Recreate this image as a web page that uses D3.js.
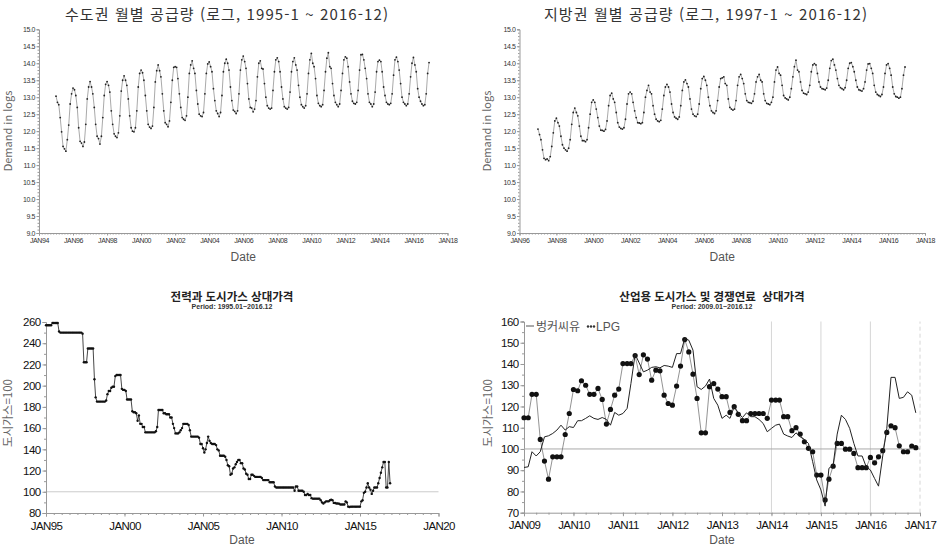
<!DOCTYPE html>
<html lang="ko">
<head>
<meta charset="UTF-8">
<title>도시가스 공급량 및 상대가격</title>
<script src="https://d3js.org/d3.v7.min.js"></script>
<style>
  body { margin: 0; background: #fff; font-family: "Liberation Sans", Arial, sans-serif; }
  svg { display: block; }
  .kr { font-family: "Noto Sans CJK KR", sans-serif; }
  .pre { white-space: pre; }
</style>
</head>
<body>
<svg id="chart" width="939" height="547"></svg>
<script>
// 수도권 월별 공급량 (로그), 1995-1 ~ 2016-12
const metroStart = 1995;
const metroDemand = [
  13.03, 12.85, 12.78, 12.40, 11.98, 11.55, 11.48, 11.41, 11.75, 12.18, 12.80, 13.10,
  13.27, 13.22, 13.05, 12.70, 12.10, 11.70, 11.65, 11.55, 11.68, 12.20, 12.95, 13.30,
  13.46, 13.30, 13.10, 12.70, 12.20, 11.85, 11.78, 11.62, 11.85, 12.40, 13.05, 13.38,
  13.46, 13.35, 13.15, 12.60, 12.20, 11.92, 11.85, 11.81, 11.95, 12.45, 13.18, 13.50,
  13.63, 13.50, 13.35, 12.95, 12.45, 12.10, 12.00, 11.98, 12.10, 12.60, 13.30, 13.70,
  13.80, 13.72, 13.50, 13.05, 12.60, 12.20, 12.12, 12.08, 12.15, 12.70, 13.45, 13.78,
  13.95, 13.78, 13.60, 13.10, 12.60, 12.25, 12.20, 12.13, 12.30, 12.85, 13.50, 13.88,
  13.90, 13.88, 13.55, 13.10, 12.70, 12.40, 12.35, 12.32, 12.45, 13.00, 13.70, 13.95,
  14.07, 13.85, 13.70, 13.20, 12.80, 12.50, 12.45, 12.43, 12.55, 13.10, 13.70, 13.98,
  14.04, 13.90, 13.75, 13.25, 12.90, 12.60, 12.52, 12.43, 12.55, 13.05, 13.75, 14.00,
  14.12, 14.00, 13.80, 13.30, 12.90, 12.62, 12.58, 12.52, 12.60, 13.10, 13.80, 14.10,
  14.21, 14.05, 13.85, 13.40, 12.95, 12.70, 12.68, 12.57, 12.65, 12.90, 13.60, 14.00,
  14.07, 13.85, 13.83, 13.40, 13.00, 12.75, 12.68, 12.65, 12.68, 13.20, 13.75, 14.10,
  14.16, 14.05, 13.75, 13.30, 12.95, 12.72, 12.68, 12.65, 12.70, 13.15, 13.75, 14.05,
  14.16, 13.95, 13.80, 13.35, 13.00, 12.78, 12.72, 12.68, 12.75, 13.10, 13.70, 14.10,
  14.29, 14.00, 13.90, 13.55, 13.05, 12.82, 12.75, 12.72, 12.78, 13.20, 13.75, 14.15,
  14.31, 13.90, 13.85, 13.40, 13.05, 12.85, 12.78, 12.72, 12.80, 13.20, 13.70, 14.10,
  14.19, 14.15, 13.90, 13.45, 13.10, 12.88, 12.82, 12.80, 12.85, 13.20, 13.80, 14.25,
  14.26, 14.10, 13.85, 13.55, 13.10, 12.85, 12.80, 12.72, 12.80, 13.15, 13.75, 14.05,
  14.09, 14.05, 13.75, 13.30, 13.05, 12.85, 12.80, 12.78, 12.82, 13.10, 13.65, 14.10,
  14.18, 14.05, 13.80, 13.40, 13.00, 12.85, 12.80, 12.75, 12.80, 13.10, 13.60, 14.00,
  14.17, 13.95, 13.75, 13.25, 13.00, 12.88, 12.80, 12.75, 12.78, 13.10, 13.70, 14.02
];

// 지방권 월별 공급량 (로그), 1997-1 ~ 2016-12
const localStart = 1997;
const localDemand = [
  12.06, 11.90, 11.75, 11.45, 11.20, 11.16, 11.18, 11.13, 11.25, 11.55, 11.95, 12.30,
  12.38, 12.25, 12.15, 11.85, 11.60, 11.50, 11.45, 11.41, 11.50, 11.75, 12.20, 12.55,
  12.68, 12.55, 12.45, 12.15, 11.85, 11.72, 11.72, 11.69, 11.75, 12.10, 12.50, 12.85,
  12.92, 12.85, 12.65, 12.40, 12.15, 12.03, 12.02, 12.00, 12.05, 12.30, 12.75, 13.05,
  13.12, 12.95, 12.85, 12.55, 12.25, 12.12, 12.08, 12.06, 12.10, 12.35, 12.80, 13.10,
  13.15, 13.10, 12.85, 12.60, 12.40, 12.25, 12.24, 12.22, 12.25, 12.55, 13.00, 13.20,
  13.35, 13.15, 13.10, 12.75, 12.50, 12.35, 12.30, 12.28, 12.32, 12.65, 13.05, 13.30,
  13.38, 13.30, 13.15, 12.80, 12.55, 12.42, 12.38, 12.35, 12.42, 12.75, 13.20, 13.45,
  13.51, 13.40, 13.30, 12.95, 12.65, 12.50, 12.45, 12.43, 12.50, 12.80, 13.25, 13.55,
  13.61, 13.50, 13.35, 13.00, 12.75, 12.60, 12.55, 12.52, 12.60, 12.90, 13.30, 13.55,
  13.57, 13.60, 13.40, 13.35, 12.95, 12.70, 12.65, 12.62, 12.65, 12.90, 13.35, 13.60,
  13.67, 13.55, 13.40, 13.10, 12.90, 12.85, 12.84, 12.82, 12.88, 13.10, 13.45, 13.60,
  13.67, 13.50, 13.45, 13.10, 12.90, 12.82, 12.80, 12.78, 12.85, 13.00, 13.45, 13.80,
  13.89, 13.70, 13.65, 13.35, 13.05, 12.98, 12.95, 12.92, 13.00, 13.25, 13.60, 13.90,
  14.09, 13.80, 13.75, 13.45, 13.20, 13.12, 13.10, 13.08, 13.15, 13.35, 13.75, 13.95,
  13.99, 13.95, 13.70, 13.45, 13.30, 13.25, 13.24, 13.22, 13.27, 13.50, 13.85, 14.08,
  14.12, 13.95, 13.80, 13.55, 13.35, 13.28, 13.25, 13.22, 13.28, 13.50, 13.85, 14.00,
  14.02, 13.90, 13.75, 13.50, 13.30, 13.22, 13.20, 13.18, 13.25, 13.45, 13.80, 13.98,
  13.99, 13.85, 13.70, 13.35, 13.15, 13.08, 13.05, 13.02, 13.08, 13.30, 13.70, 13.95,
  13.99, 13.85, 13.65, 13.30, 13.10, 13.02, 13.00, 12.97, 13.00, 13.25, 13.65, 13.89
];

// 전력과 도시가스 상대가격 (도시가스=100), 1995.01~2016.12
const elecStart = 1995;
const elecRelPrice = [
  257, 257, 257, 257, 257, 259, 259, 259, 259, 259, 251, 250,
  250, 250, 250, 250, 250, 250, 250, 250, 250, 250, 250, 250,
  250, 250, 250, 250, 249, 222, 222, 222, 235, 235, 235, 235,
  235, 206, 189, 185, 185, 185, 185, 185, 185, 185, 186, 192,
  195, 195, 198, 199, 199, 209, 210, 210, 210, 210, 197, 196,
  196, 195, 187, 187, 187, 187, 176, 175, 175, 174, 167, 172,
  164, 164, 161, 161, 156, 156, 156, 156, 156, 156, 156, 156,
  157, 161, 177, 177, 177, 177, 174, 174, 173, 173, 173, 170,
  170, 164, 160, 155, 155, 155, 156, 158, 160, 164, 164, 164,
  164, 163, 158, 152, 152, 152, 152, 152, 152, 151, 145, 145,
  141, 137, 140, 146, 152, 148, 146, 145, 145, 145, 144, 140,
  139, 134, 134, 134, 134, 133, 130, 125, 124, 116, 117, 122,
  123, 126, 128, 130, 130, 127, 127, 122, 121, 117, 116, 112,
  112, 116, 116, 115, 114, 114, 114, 114, 114, 113, 111, 111,
  111, 111, 111, 109, 109, 109, 109, 105, 104, 104, 104, 104,
  104, 104, 104, 104, 104, 104, 104, 104, 104, 104, 101, 105,
  105, 101, 101, 101, 101, 100, 97, 97, 98, 97, 97, 94,
  93.5, 93.5, 93.5, 93.5, 93.5, 93.5, 92, 90, 89, 90, 91, 91,
  91, 92, 92.5, 92, 89.5, 89.4, 89, 89, 88.8, 88, 88, 88,
  88, 91, 90, 86, 85.6, 86, 86, 86, 86, 86, 86, 86,
  86, 91, 92, 99, 100, 104, 108, 104, 102, 98, 101, 104,
  104, 104, 108, 113, 118, 123, 128, 128, 104, 104, 128, 108
];

// 산업용 도시가스 및 경쟁연료 상대가격, 2009.01~2016.12
const fuelStart = 2009;
const bunkerC = [
  91.3, 91.6, 98.7, 96.7, 98.7, 105.7, 106.2, 107.3, 108.9, 111.2, 108.9, 110.5,
  110.1, 113.3, 113.3, 114.4, 115.6, 114.4, 113.9, 114.8, 113.9, 111.2, 117.2, 115.9,
  116.7, 119.1, 130.8, 144.6, 140.5, 136.3, 137.1, 138.4, 138.7, 138.2, 139.3, 139.0,
  138.4, 144.9, 144.9, 152.0, 151.2, 146.5, 129.3, 128.0, 129.6, 132.9, 123.8, 120.6,
  114.4, 115.9, 114.4, 119.9, 117.0, 114.8, 117.0, 115.2, 115.2, 113.9, 112.0, 108.1,
  109.7, 111.2, 111.7, 107.0, 106.1, 105.4, 107.6, 105.7, 104.5, 102.6, 94.0, 85.4,
  80.7, 73.1, 90.9, 92.4, 107.0, 115.9, 113.9, 109.7, 102.6, 96.7, 96.7, 91.6,
  90.1, 86.1, 82.5, 96.7, 109.7, 133.7, 133.7, 123.8, 124.3, 126.9, 125.3, 117.0
];
const lpg = [
  114.7, 114.7, 125.7, 125.7, 104.5, 94.3, 85.8, 96.3, 96.3, 96.3, 106.8, 116.7,
  128.0, 127.4, 132.1, 130.0, 125.7, 125.7, 128.5, 123.3, 111.7, 118.6, 125.3, 128.2,
  140.2, 140.2, 140.2, 144.0, 135.0, 144.3, 142.3, 132.4, 137.1, 136.8, 125.3, 121.4,
  120.6, 129.6, 139.0, 151.5, 145.7, 135.2, 123.8, 107.6, 107.6, 129.3, 130.8, 128.2,
  124.6, 124.6, 117.2, 119.9, 116.3, 113.3, 113.3, 116.7, 116.7, 116.7, 116.7, 114.4,
  123.0, 123.0, 123.0, 115.2, 115.2, 108.6, 110.0, 107.0, 103.4, 100.3, 98.7, 87.7,
  87.7, 76.0, 85.8, 91.9, 102.6, 102.6, 99.9, 99.9, 97.9, 91.2, 91.2, 91.2,
  96.0, 93.5, 96.3, 99.2, 107.8, 110.9, 110.0, 101.5, 98.7, 98.7, 101.4, 100.6
];
const fuelNames = ["벙커씨유", "LPG"];

const svg = d3.select("#chart");
const fmtMon = d => d3.timeFormat("%b%y")(d).toUpperCase();
const monthly = (y0, vals) => vals.map((v, i) => ({date: new Date(y0, i, 1), v: v}));
const yr = y => new Date(y, 0, 1);

// axes + minor ticks for one panel
function axes(o) {
  const x = d3.scaleTime().domain([yr(o.years[0]), yr(o.years[o.years.length - 1])]).range(o.xRange);
  const y = d3.scaleLinear().domain([o.yTicks[0], o.yTicks[o.yTicks.length - 1]]).range(o.yRange);
  const g = svg.append("g");
  const h = o.yRange[0], l = o.xRange[0];

  const minorX = d3.timeMonth.every(o.xMinorStep).range(x.domain()[0], x.domain()[1]);
  g.append("g").attr("transform", `translate(0,${h})`)
    .call(d3.axisBottom(x).tickValues(minorX).tickSize(o.minor).tickFormat(""))
    .call(a => a.select(".domain").remove());
  g.append("g").attr("transform", `translate(${l},0)`)
    .call(d3.axisLeft(y).tickValues(d3.range(o.yTicks[0], o.yTicks[o.yTicks.length - 1] + 1e-6, o.yMinorStep))
      .tickSize(o.minor).tickFormat(""))
    .call(a => a.select(".domain").remove());

  g.append("g").attr("transform", `translate(0,${h})`)
    .call(d3.axisBottom(x).tickValues(o.years.map(yr)).tickSize(o.major).tickPadding(o.padX).tickFormat(fmtMon))
    .call(a => a.selectAll("text").attr("font-size", o.font).attr("fill", o.tickColor)
      .attr("letter-spacing", o.spacing).attr("font-family", "Liberation Sans, Arial, sans-serif"));
  g.append("g").attr("transform", `translate(${l},0)`)
    .call(d3.axisLeft(y).tickValues(o.yTicks).tickSize(o.major).tickPadding(o.padY).tickFormat(o.yFormat))
    .call(a => a.selectAll("text").attr("font-size", o.yFont || o.font).attr("fill", o.tickColor)
      .attr("letter-spacing", o.spacing).attr("font-family", "Liberation Sans, Arial, sans-serif"));

  g.selectAll(".domain").attr("stroke", "#999");
  g.selectAll(".tick line").attr("stroke", "#999");
  return {g, x, y};
}

function labels(cx, xLeft, cy, yText, dateY, dateSize, ySize) {
  svg.append("text").attr("x", cx).attr("y", dateY).attr("text-anchor", "middle")
    .attr("font-size", dateSize).attr("fill", "#555").text("Date");
  svg.append("text").attr("class", "kr")
    .attr("transform", `translate(${xLeft},${cy}) rotate(-90)`)
    .attr("text-anchor", "middle").attr("font-size", ySize).attr("fill", "#666").text(yText);
}

// ---------- top panels: log demand ----------
const logTicks = d3.range(9, 15.001, 0.5);
const topCommon = {
  yTicks: logTicks, yRange: [233, 29.3], yFormat: d3.format(".1f"), yMinorStep: 0.1,
  xMinorStep: 2, minor: 1.5, major: 2.5, padX: 3, padY: 1.5, font: 7, spacing: -0.4, tickColor: "#333"
};
const topPanels = [
  {years: d3.range(1994, 2019, 2), xRange: [39, 447.5], start: metroStart, vals: metroDemand,
   title: "수도권 월별 공급량 (로그, 1995-1 ~ 2016-12)", tx: 227, yl: 12},
  {years: d3.range(1996, 2019, 2), xRange: [519.5, 925], start: localStart, vals: localDemand,
   title: "지방권 월별 공급량 (로그, 1997-1 ~ 2016-12)", tx: 706, yl: 491}
];

topPanels.forEach(p => {
  const {g, x, y} = axes(Object.assign({}, topCommon, p));
  const pts = monthly(p.start, p.vals);
  g.append("path").datum(pts)
    .attr("fill", "none").attr("stroke", "#aaa").attr("stroke-width", 1)
    .attr("d", d3.line().x(d => x(d.date)).y(d => y(d.v)));
  g.selectAll("circle").data(pts).join("circle")
    .attr("cx", d => x(d.date)).attr("cy", d => y(d.v)).attr("r", 0.9).attr("fill", "#222");
  svg.append("text").attr("class", "kr").attr("x", p.tx).attr("y", 19.5).attr("text-anchor", "middle")
    .attr("font-size", 15).attr("fill", "#333").attr("letter-spacing", 1.1).text(p.title);
  labels((p.xRange[0] + p.xRange[1]) / 2, p.yl, 131, "Demand in logs", 261, 12, 11);
});

// ---------- bottom panels: relative prices ----------
const botCommon = {
  yRange: [513, 322], yFormat: d3.format("d"), minor: 2, major: 3.5, padX: 5, padY: 2,
  font: 11.5, yFont: 11.5, spacing: -0.6, tickColor: "#111"
};

function bottomTitle(cx, title, sub) {
  svg.append("text").attr("class", "kr pre").attr("x", cx).attr("y", 301).attr("text-anchor", "middle")
    .attr("font-size", 11.5).attr("font-weight", "bold").attr("fill", "#222").text(title);
  svg.append("text").attr("x", cx).attr("y", 309).attr("text-anchor", "middle")
    .attr("font-size", 7).attr("font-weight", "bold").attr("fill", "#333").text(sub);
}

// 전력과 도시가스
const elecYears = [1995, 2000, 2005, 2010, 2015, 2020];
const elecTicks = d3.range(80, 261, 20);
{
  const o = Object.assign({}, botCommon, {years: elecYears, xRange: [46, 438.5], yTicks: elecTicks,
    xMinorStep: 6, yMinorStep: 10});
  const {g, x, y} = axes(o);
  g.append("line").attr("x1", x.range()[0] + 1).attr("x2", x.range()[1])
    .attr("y1", y(100)).attr("y2", y(100)).attr("stroke", "#ccc").attr("stroke-width", 1);
  const pts = monthly(elecStart, elecRelPrice);
  g.append("path").datum(pts)
    .attr("fill", "none").attr("stroke", "#333").attr("stroke-width", 0.9)
    .attr("d", d3.line().x(d => x(d.date)).y(d => y(d.v)));
  g.selectAll("circle").data(pts).join("circle")
    .attr("cx", d => x(d.date)).attr("cy", d => y(d.v)).attr("r", 1.2).attr("fill", "#111");
  bottomTitle(232, "전력과 도시가스 상대가격", "Period: 1995.01~2016.12");
  labels(242, 12, 413, "도시가스=100", 544, 12, 11.5);
}

// 산업용 도시가스 및 경쟁연료
const fuelYears = d3.range(2009, 2018);
const fuelTicks = d3.range(70, 161, 10);
{
  const o = Object.assign({}, botCommon, {years: fuelYears, xRange: [524, 920], yTicks: fuelTicks,
    yRange: [512.7, 321.5], xMinorStep: 3, yMinorStep: 5});
  const {g, x, y} = axes(o);
  [2014, 2015, 2016, 2017].forEach(yv => {
    g.append("line").attr("x1", x(yr(yv))).attr("x2", x(yr(yv)))
      .attr("y1", y(70)).attr("y2", y(160)).attr("stroke", "#ccc").attr("stroke-width", 0.8)
      .attr("stroke-dasharray", yv === 2017 ? "4,3" : null);
  });
  g.append("line").attr("x1", x.range()[0]).attr("x2", x.range()[1])
    .attr("y1", y(100)).attr("y2", y(100)).attr("stroke", "#aaa").attr("stroke-width", 1);

  const line = d3.line().x(d => x(d.date)).y(d => y(d.v));
  const lp = monthly(fuelStart, lpg);
  g.append("path").datum(lp).attr("fill", "none").attr("stroke", "#777").attr("stroke-width", 0.8).attr("d", line);
  g.selectAll("circle").data(lp).join("circle")
    .attr("cx", d => x(d.date)).attr("cy", d => y(d.v)).attr("r", 2.6).attr("fill", "#111");
  g.append("path").datum(monthly(fuelStart, bunkerC))
    .attr("fill", "none").attr("stroke", "#222").attr("stroke-width", 1).attr("d", line);

  // legend
  const lg = svg.append("g").attr("transform", "translate(526,326)");
  lg.append("line").attr("x1", 0).attr("x2", 8).attr("y1", 0).attr("y2", 0).attr("stroke", "#555");
  lg.append("text").attr("class", "kr").attr("x", 10).attr("y", 4.5).attr("font-size", 12).attr("fill", "#555").text(fuelNames[0]);
  [62, 65, 68].forEach(cx => lg.append("circle").attr("cx", cx).attr("cy", 0.5).attr("r", 1.2).attr("fill", "#333"));
  lg.append("text").attr("x", 70).attr("y", 4.5).attr("font-size", 12).attr("fill", "#555").text(fuelNames[1]);

  bottomTitle(712, "산업용 도시가스 및 경쟁연료  상대가격", "Period: 2009.01~2016.12");
  labels(722, 492, 413, "도시가스=100", 544, 12, 11.5);
}
</script>
</body>
</html>
